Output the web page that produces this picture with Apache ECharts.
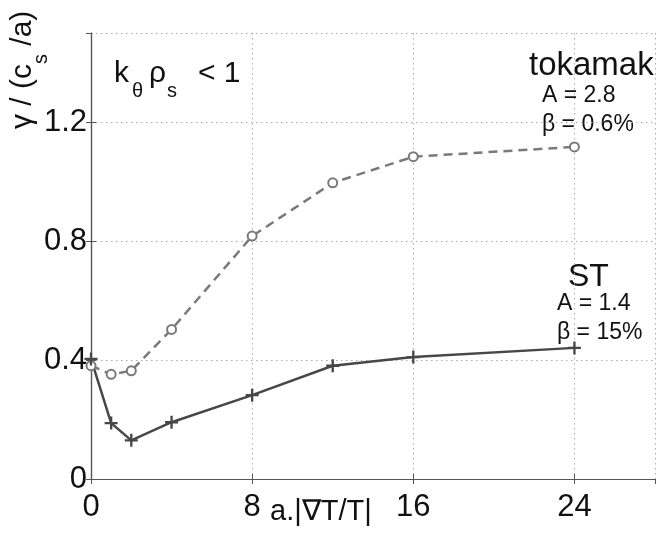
<!DOCTYPE html>
<html><head><meta charset="utf-8">
<script src="https://cdn.jsdelivr.net/npm/echarts@6/dist/echarts.min.js"></script>
<style>html,body{margin:0;padding:0;background:#fff}#c{width:663px;height:535px}</style>
</head><body><div id="c"></div>
<script>
const xValues = [0, 1, 2, 4, 8, 12, 16, 24];
const tokamak = [0.381, 0.352, 0.364, 0.503, 0.817, 0.996, 1.084, 1.117];
const st = [0.404, 0.188, 0.130, 0.191, 0.282, 0.381, 0.410, 0.441];
const xTicks = [0, 8, 16, 24];
const yTicks = [0, 0.4, 0.8, 1.2];

const FONT = 'Liberation Sans';
const INK = '#111';
const chart = echarts.init(document.getElementById('c'));
const plus = 'path://M4.1,0 H5.9 V4.1 H10 V5.9 H5.9 V10 H4.1 V5.9 H0 V4.1 H4.1 Z';
const axisCommon = {
  axisLine: {lineStyle: {color: '#555', width: 1.2}},
  axisTick: {inside: true, length: 5, lineStyle: {color: '#555'}},
};
const cv = document.createElement('canvas').getContext('2d');
function tw(t, size) { cv.font = size + 'px "' + FONT + '"'; return cv.measureText(t).width; }
// text placed by baseline (top-aligned box: baseline ≈ top + 0.83*size)
function T(text, x, baseline, size, extra) {
  return Object.assign({type: 'text', x: x, y: baseline - 0.83 * size,
    style: {text: text, fontFamily: FONT, fontSize: size, fill: INK}}, extra || {});
}
// rotated y-axis title pieces (local coords, baseline at 0)
const yt1 = 'γ / (c', yt2 = 's', yt3 = ' /a)';
const w1 = tw(yt1, 30), w2 = tw(yt2, 20);
const yTitle = {type: 'group', x: 33, y: 129, rotation: Math.PI / 2, children: [
  T(yt1, 0, 0, 30), T(yt2, w1, 15, 20), T(yt3, w1 + w2, 0, 30)
]};

chart.setOption({
  animation: false,
  backgroundColor: '#fff',
  grid: {left: 91, top: 33, right: 8, bottom: 56},
  xAxis: [
    Object.assign({type: 'value', min: 0, max: 28, interval: 8,
      axisLabel: {fontFamily: FONT, fontSize: 31, color: INK, margin: 13, showMaxLabel: false,
        formatter: v => xTicks.includes(v) ? String(v) : ''},
      splitLine: {show: true, lineStyle: {color: '#aaa', type: [1.5, 3.5], width: 1}}}, axisCommon),
    Object.assign({type: 'value', min: 0, max: 28, interval: 8, position: 'top',
      axisLabel: {show: false}, splitLine: {show: false}}, axisCommon)
  ],
  yAxis: [
    Object.assign({type: 'value', min: 0, max: 1.5, interval: 0.4,
      axisLabel: {fontFamily: FONT, fontSize: 31, color: INK, margin: 4, showMaxLabel: false,
        formatter: v => { const t = yTicks.find(k => Math.abs(k - v) < 1e-9); return t === undefined ? '' : (t === 0 ? '0' : t.toFixed(1)); }},
      splitLine: {show: true, lineStyle: {color: '#aaa', type: [1.5, 3.5], width: 1}}}, axisCommon),
    Object.assign({type: 'value', min: 0, max: 1.5, interval: 0.4, position: 'right',
      axisLabel: {show: false}, splitLine: {show: false}}, axisCommon)
  ],
  series: [
    {type: 'line', name: 'tokamak', data: xValues.map((x, i) => [x, tokamak[i]]),
      lineStyle: {color: '#7a7a7a', width: 2.5, type: [9, 6]},
      symbol: 'circle', symbolSize: 9, showAllSymbol: true,
      itemStyle: {color: '#fff', borderColor: '#7a7a7a', borderWidth: 2}},
    {type: 'line', name: 'ST', data: xValues.map((x, i) => [x, st[i]]),
      lineStyle: {color: '#474747', width: 2.5},
      symbol: plus, symbolSize: 13, showAllSymbol: true,
      itemStyle: {color: '#474747'}}
  ],
  graphic: [
    T('k', 114, 84, 30), T('θ', 132, 98, 20), T('ρ', 149, 84, 30), T('s', 167, 98, 20), T('< 1', 198, 84, 30),
    T('tokamak', 529, 77, 33),
    T('A = 2.8', 542, 103, 23),
    T('β = 0.6%', 542, 132, 23),
    T('ST', 568, 288, 32),
    T('A = 1.4', 557, 311, 23),
    T('β = 15%', 557, 340, 23),
    T('a.|∇T/T|', 270, 522, 29),
    yTitle
  ]
});
</script></body></html>
